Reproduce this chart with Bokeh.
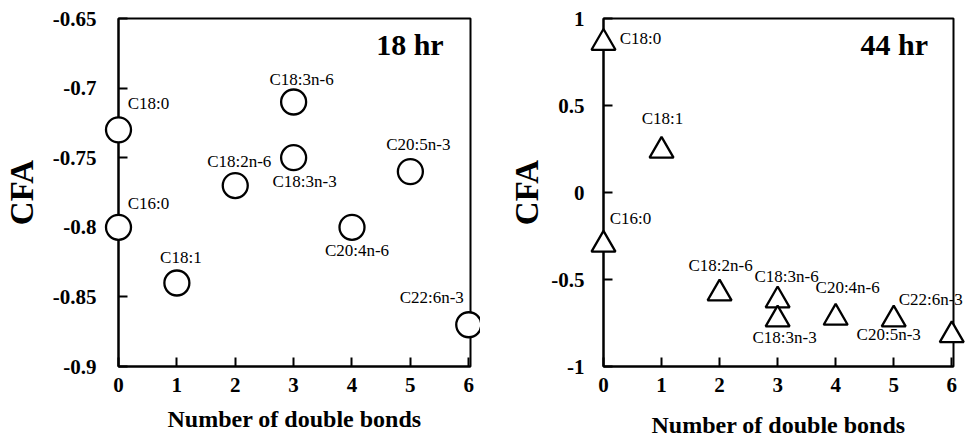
from bokeh.plotting import figure
from bokeh.layouts import row
from bokeh.models import ColumnDataSource, FixedTicker, Label, Range1d
from bokeh.core.properties import value
from bokeh.embed import file_html
from bokeh.resources import INLINE

# ---- data ----
acids = ["C16:0", "C18:0", "C18:1", "C18:2n-6", "C18:3n-6", "C18:3n-3",
         "C20:4n-6", "C20:5n-3", "C22:6n-3"]
double_bonds = [0, 0, 1, 2, 3, 3, 4, 5, 6]
cfa_18hr = [-0.80, -0.73, -0.84, -0.77, -0.71, -0.75, -0.80, -0.76, -0.87]
cfa_44hr = [-0.30, 0.86, 0.24, -0.58, -0.62, -0.73, -0.72, -0.73, -0.82]

x_ticks = [0, 1, 2, 3, 4, 5, 6]
y_ticks_18 = [-0.9, -0.85, -0.8, -0.75, -0.7, -0.65]
y_tick_labels_18 = ["-0.9", "-0.85", "-0.8", "-0.75", "-0.7", "-0.65"]
y_ticks_44 = [-1, -0.5, 0, 0.5, 1]
y_tick_labels_44 = ["-1", "-0.5", "0", "0.5", "1"]

# label placement (screen pixel offsets from each marker)
dx_18 = [30, 30, 4, 4, 8, 11, 5, 8, -37]
dy_18 = [-24, -26, -25, -24, -23, 24, 23, -27, -27]
dx_44 = [27, 37, 1, 1, 9, 7, 12, -5, -21]
dy_44 = [-26, -4, -32, -28, -24, 18, -30, 15, -36]

SERIF = "'Liberation Serif', 'Times New Roman', serif"


def make_panel(yvals, dx, dy, yr, yticks, ylabels, title, title_xy, marker,
               msize, width, mbl, mbr, mbt, title_standoff, ylab_standoff,
               ytick_standoff):
    p = figure(width=width, height=442, output_backend="svg",
               toolbar_location=None, x_range=Range1d(0, 6.03),
               y_range=Range1d(*yr), min_border_left=mbl,
               min_border_right=mbr, min_border_top=mbt,
               min_border_bottom=76)
    p.grid.visible = False
    p.outline_line_color = "black"
    p.outline_line_width = 2
    p.background_fill_color = "white"
    p.border_fill_color = "white"

    for ax in (p.xaxis[0], p.yaxis[0]):
        ax.axis_line_width = 2
        ax.major_tick_line_width = 2
        ax.major_tick_in = 9
        ax.major_tick_out = 0
        ax.minor_tick_line_color = None
        ax.major_label_text_font = SERIF
        ax.major_label_text_font_style = "bold"
        ax.major_label_text_font_size = "21px"
        ax.axis_label_text_font = SERIF
        ax.axis_label_text_font_style = "bold"
        ax.major_label_text_color = "black"
        ax.axis_label_text_color = "black"

    p.xaxis.ticker = FixedTicker(ticks=x_ticks)
    p.xaxis.axis_label = "Number of double bonds"
    p.xaxis.axis_label_text_font_size = "24px"
    p.xaxis.major_label_standoff = 11
    p.xaxis.axis_label_standoff = title_standoff

    p.yaxis.ticker = FixedTicker(ticks=yticks)
    p.yaxis.major_label_overrides = {t: l for t, l in zip(yticks, ylabels)}
    p.yaxis.axis_label = "CFA"
    p.yaxis.axis_label_text_font_size = "33px"
    p.yaxis.major_label_standoff = ytick_standoff
    p.yaxis.axis_label_standoff = ylab_standoff

    src = ColumnDataSource(dict(x=double_bonds, y=yvals, name=acids,
                                dx=dx, dy=dy))
    p.scatter("x", "y", source=src, marker=marker, size=msize,
              fill_color="white", line_color="black", line_width=2.3,
              level="overlay")
    p.text("x", "y", text="name", source=src, x_offset="dx", y_offset="dy",
           text_align="center", text_baseline="middle",
           text_font=value(SERIF), text_font_size="17px",
           text_color="black", level="overlay")

    p.add_layout(Label(x=title_xy[0], y=title_xy[1], text=title,
                       text_font=SERIF, text_font_style="bold",
                       text_font_size="30px", text_align="right",
                       text_baseline="middle", text_color="black"))
    return p


p1 = make_panel(cfa_18hr, dx_18, dy_18, (-0.9, -0.65), y_ticks_18,
                y_tick_labels_18, "18 hr", (5.57, -0.669), "circle", 25,
                480, 118, 10, 16, 11, 10, 22)
p2 = make_panel(cfa_44hr, dx_44, dy_44, (-1, 1), y_ticks_44,
                y_tick_labels_44, "44 hr", (5.59, 0.85), "triangle", 24,
                485, 123, 12, 18, 17, 3, 19)

layout = row(p1, p2)
open("out.html", "w").write(file_html(layout, INLINE))
